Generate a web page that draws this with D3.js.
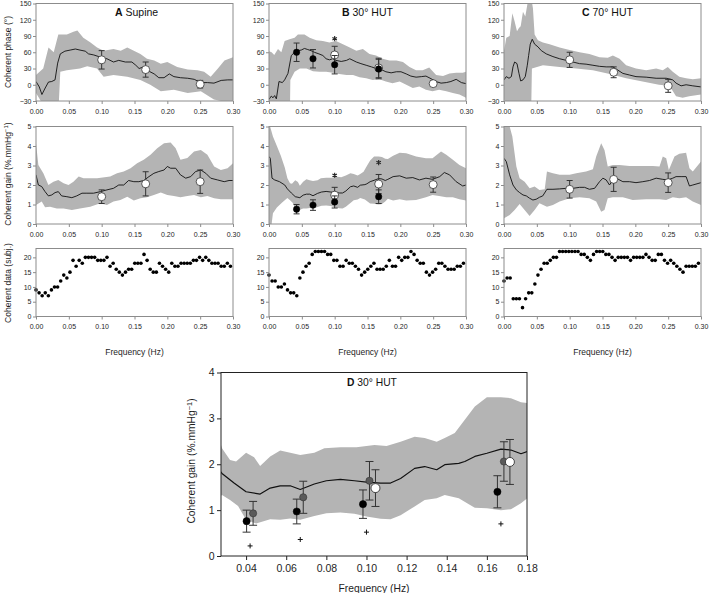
<!DOCTYPE html>
<html><head><meta charset="utf-8">
<script src="https://cdn.jsdelivr.net/npm/d3@7"></script>
<style>
body{margin:0;background:#fff;}
svg{display:block;}
</style></head><body>
<svg id="chart" width="709" height="593"></svg>
<script>
// ---------------- DATA ----------------
const freqTicks = [0, 0.05, 0.10, 0.15, 0.20, 0.25, 0.30];
const phaseTicks = [-30, 0, 30, 60, 90, 120, 150];
const gainTicks = [0, 1, 2, 3, 4, 5];
const subjTicks = [0, 5, 10, 15, 20];
const dFreqTicks = [0.04, 0.06, 0.08, 0.10, 0.12, 0.14, 0.16, 0.18];
const dGainTicks = [0, 1, 2, 3, 4];
const panelLetters = ["A", "B", "C"];
const panelNames = [" Supine", " 30° HUT", " 70° HUT"];

// coherent phase (deg): mean line and 95% band
const phaseA_line = [[0,6],[0.005,-4],[0.009,-18],[0.014,-6],[0.019,5],[0.024,6],[0.029,9],[0.033,40],[0.037,57],[0.044,62],[0.052,64],[0.060,66],[0.067,64],[0.075,62],[0.080,57],[0.088,55],[0.098,51],[0.108,48],[0.118,42],[0.126,45],[0.136,42],[0.146,42],[0.152,36],[0.157,30],[0.164,33],[0.172,25],[0.180,20],[0.187,13],[0.195,13],[0.203,20],[0.210,15],[0.220,13],[0.231,12],[0.241,10],[0.251,4],[0.261,4],[0.271,3],[0.282,8],[0.292,9],[0.300,9]];
const phaseA_upper = [[0,18],[0.011,30],[0.019,69],[0.027,60],[0.034,93],[0.047,93],[0.057,98],[0.063,100],[0.072,87],[0.083,78],[0.093,69],[0.103,63],[0.118,66],[0.129,63],[0.139,69],[0.149,63],[0.159,57],[0.169,48],[0.180,45],[0.190,39],[0.200,42],[0.215,33],[0.231,28],[0.246,27],[0.256,24],[0.266,15],[0.277,30],[0.287,45],[0.300,51]];
const phaseA_lower = [[0,-15],[0.006,-27],[0.011,-40],[0.0345,-40],[0.037,24],[0.047,27],[0.067,30],[0.078,34],[0.093,30],[0.103,15],[0.118,18],[0.139,15],[0.159,9],[0.174,0],[0.190,-12],[0.210,-9],[0.231,-15],[0.251,-12],[0.271,-27],[0.292,-33],[0.300,-33]];

const phaseB_line = [[0,-27],[0.0035,-21],[0.0061,-24],[0.0086,-20],[0.0112,-26],[0.0152,6],[0.0203,4],[0.0238,9],[0.0289,21],[0.034,54],[0.039,60],[0.044,63],[0.049,64],[0.054,67],[0.059,65],[0.064,63],[0.069,60],[0.076,57],[0.082,54],[0.087,48],[0.092,46],[0.097,48],[0.102,45],[0.110,43],[0.118,45],[0.123,48],[0.128,45],[0.133,42],[0.140,39],[0.148,36],[0.156,33],[0.163,30],[0.171,28],[0.178,24],[0.186,22],[0.194,24],[0.201,24],[0.209,20],[0.216,16],[0.224,14],[0.232,15],[0.239,16],[0.247,11],[0.254,6],[0.262,3],[0.270,4],[0.277,6],[0.285,10],[0.293,4],[0.300,2]];
const phaseB_upper = [[0,62],[0.004,60],[0.008,55],[0.0137,66],[0.0188,60],[0.0238,81],[0.0314,84],[0.039,87],[0.044,93],[0.054,93],[0.062,87],[0.072,82],[0.082,81],[0.092,78],[0.102,81],[0.1126,75],[0.123,69],[0.133,63],[0.143,66],[0.153,57],[0.163,54],[0.173,48],[0.1835,45],[0.194,45],[0.204,42],[0.214,33],[0.224,27],[0.234,27],[0.244,32],[0.2545,18],[0.265,16],[0.275,21],[0.285,22],[0.295,22],[0.300,24]];
const phaseB_lower = [[0,-40],[0.032,-40],[0.0325,9],[0.039,24],[0.047,30],[0.057,30],[0.067,25],[0.077,24],[0.087,24],[0.097,22],[0.107,20],[0.118,18],[0.128,18],[0.138,14],[0.148,12],[0.158,9],[0.168,10],[0.178,6],[0.188,3],[0.199,6],[0.209,0],[0.219,-6],[0.229,-3],[0.239,-9],[0.249,-12],[0.259,-9],[0.270,-12],[0.280,-15],[0.290,-18],[0.300,-24]];

const phaseC_line = [[0,9],[0.0035,15],[0.0076,12],[0.0112,15],[0.0137,33],[0.0162,42],[0.0198,39],[0.0228,21],[0.0254,7],[0.0289,9],[0.0324,15],[0.0355,36],[0.0375,54],[0.040,75],[0.043,84],[0.0466,75],[0.0517,70],[0.0568,63],[0.0644,57],[0.0745,52],[0.0847,48],[0.0948,45],[0.105,42],[0.115,39],[0.125,38],[0.1354,36],[0.1455,34],[0.1556,33],[0.1658,33],[0.1734,27],[0.181,21],[0.191,18],[0.201,15],[0.2165,14],[0.2317,12],[0.247,12],[0.257,9],[0.262,3],[0.2697,-2],[0.2773,0],[0.2875,-2],[0.300,-4]];
const phaseC_upper = [[0,63],[0.0035,87],[0.0086,90],[0.0127,132],[0.0162,117],[0.0198,99],[0.0228,105],[0.0254,108],[0.0289,135],[0.0324,126],[0.0365,155],[0.0416,160],[0.0441,141],[0.0466,93],[0.0517,82],[0.0593,78],[0.0694,75],[0.0847,69],[0.100,64],[0.115,60],[0.130,57],[0.1455,51],[0.158,50],[0.1658,54],[0.176,48],[0.186,36],[0.201,30],[0.2165,27],[0.2317,30],[0.2418,27],[0.2494,33],[0.257,24],[0.267,15],[0.2773,12],[0.2875,10],[0.300,12]];
const phaseC_lower = [[0,-27],[0.006,-40],[0.0415,-40],[0.0425,30],[0.0593,36],[0.0847,33],[0.110,30],[0.1354,27],[0.161,20],[0.186,12],[0.211,6],[0.236,0],[0.252,-2],[0.262,-21],[0.272,-24],[0.282,-21],[0.300,-18]];

// coherent gain (%.mmHg-1)
const gainA_line = [[0,2.52],[0.0036,2.0],[0.0087,1.92],[0.0138,1.66],[0.0189,1.44],[0.024,1.49],[0.029,1.61],[0.034,1.66],[0.039,1.44],[0.047,1.40],[0.0546,1.35],[0.062,1.44],[0.070,1.58],[0.0775,1.58],[0.0877,1.58],[0.098,1.66],[0.108,1.75],[0.118,1.83],[0.126,2.0],[0.1336,2.0],[0.141,2.23],[0.149,2.17],[0.1566,2.17],[0.164,2.23],[0.172,2.43],[0.1795,2.60],[0.187,2.69],[0.195,2.77],[0.200,2.95],[0.205,2.86],[0.2127,2.86],[0.220,2.52],[0.228,2.35],[0.2356,2.43],[0.243,2.69],[0.251,2.77],[0.2586,2.60],[0.266,2.35],[0.2764,2.26],[0.2866,2.17],[0.294,2.23],[0.300,2.23]];
const gainA_upper = [[0,4.14],[0.0036,3.03],[0.0112,2.60],[0.0189,2.0],[0.0265,2.17],[0.034,2.26],[0.042,2.09],[0.0495,2.0],[0.057,2.17],[0.065,2.43],[0.0724,2.35],[0.093,2.35],[0.113,2.43],[0.1234,2.60],[0.1336,2.69],[0.144,2.86],[0.154,3.12],[0.164,3.29],[0.1744,3.55],[0.1846,3.89],[0.195,4.14],[0.205,4.18],[0.2127,3.89],[0.220,3.29],[0.2305,3.38],[0.2407,3.72],[0.251,3.80],[0.261,3.55],[0.2713,2.95],[0.2815,2.77],[0.2917,2.86],[0.300,3.12]];
const gainA_lower = [[0,0.98],[0.0087,1.15],[0.0138,0.86],[0.0214,0.89],[0.0316,0.80],[0.042,0.80],[0.0546,0.72],[0.067,0.80],[0.0826,0.89],[0.098,1.06],[0.108,0.98],[0.118,1.15],[0.1285,1.23],[0.139,1.40],[0.149,1.20],[0.159,1.32],[0.169,1.37],[0.1795,1.49],[0.190,1.61],[0.200,1.49],[0.210,1.44],[0.220,1.37],[0.2305,1.44],[0.2407,1.49],[0.251,1.37],[0.261,1.44],[0.2713,1.32],[0.2815,1.27],[0.300,1.27]];

const gainB_line = [[0,3.46],[0.002,3.37],[0.0046,2.35],[0.0086,2.26],[0.016,2.17],[0.024,2.0],[0.028,1.80],[0.034,1.59],[0.040,1.40],[0.047,1.35],[0.052,1.48],[0.057,1.53],[0.062,1.53],[0.067,1.45],[0.074,1.57],[0.080,1.64],[0.087,1.67],[0.094,1.64],[0.100,1.61],[0.107,1.59],[0.112,1.59],[0.117,1.69],[0.124,1.91],[0.129,1.95],[0.135,1.88],[0.139,1.99],[0.146,2.02],[0.149,2.06],[0.154,2.17],[0.160,2.24],[0.167,2.33],[0.172,2.31],[0.177,2.23],[0.181,2.29],[0.189,2.43],[0.199,2.47],[0.209,2.35],[0.219,2.38],[0.229,2.26],[0.239,2.35],[0.249,2.29],[0.260,2.43],[0.267,2.64],[0.275,2.52],[0.285,2.17],[0.295,1.95],[0.300,2.0]];
const gainB_upper = [[0,5.2],[0.006,4.49],[0.012,4.0],[0.018,3.5],[0.024,2.9],[0.028,2.35],[0.032,2.09],[0.035,2.06],[0.040,2.25],[0.044,2.15],[0.047,1.96],[0.052,2.17],[0.057,2.30],[0.062,2.25],[0.067,2.20],[0.074,2.25],[0.079,2.35],[0.087,2.37],[0.095,2.37],[0.104,2.42],[0.110,2.40],[0.117,2.49],[0.124,2.60],[0.129,2.57],[0.135,2.49],[0.139,2.57],[0.144,2.68],[0.149,2.97],[0.154,3.26],[0.160,3.46],[0.167,3.46],[0.172,3.44],[0.177,3.35],[0.181,3.33],[0.189,3.5],[0.199,3.65],[0.209,3.63],[0.224,3.46],[0.239,3.37],[0.249,3.37],[0.262,3.72],[0.270,3.55],[0.280,3.29],[0.290,3.03],[0.300,2.86]];
const gainB_lower = [[0,0],[0.004,0],[0.006,0.55],[0.012,0.85],[0.020,1.1],[0.028,1.33],[0.032,1.22],[0.036,1.09],[0.040,0.79],[0.045,0.71],[0.052,0.80],[0.057,0.79],[0.062,0.82],[0.067,0.79],[0.074,0.87],[0.080,0.93],[0.087,0.95],[0.094,0.92],[0.100,0.86],[0.107,0.81],[0.112,0.80],[0.117,0.89],[0.124,1.08],[0.129,1.22],[0.135,1.26],[0.139,1.33],[0.146,1.26],[0.151,1.13],[0.154,1.05],[0.160,1.04],[0.167,1.00],[0.172,1.02],[0.177,1.15],[0.181,1.29],[0.189,1.20],[0.199,1.27],[0.209,1.20],[0.224,1.23],[0.239,1.37],[0.249,1.49],[0.259,1.44],[0.270,1.37],[0.280,1.37],[0.290,1.27],[0.300,1.20]];

const gainC_line = [[0,3.37],[0.0035,3.20],[0.0086,2.52],[0.0137,2.0],[0.0188,1.75],[0.0238,1.61],[0.0289,1.49],[0.034,1.44],[0.039,1.32],[0.044,1.23],[0.049,1.27],[0.054,1.37],[0.059,1.44],[0.0654,1.78],[0.0745,1.78],[0.0847,1.80],[0.0948,1.83],[0.105,1.83],[0.115,1.88],[0.1227,1.88],[0.130,1.78],[0.138,1.83],[0.1455,2.17],[0.1506,2.35],[0.1556,2.26],[0.1607,2.0],[0.1658,2.26],[0.1709,2.35],[0.181,2.17],[0.191,2.17],[0.201,2.12],[0.2114,2.17],[0.2216,2.23],[0.2317,2.35],[0.2418,2.29],[0.2494,2.26],[0.257,2.35],[0.262,2.43],[0.2697,2.43],[0.2773,2.43],[0.2824,1.95],[0.2875,2.0],[0.300,2.12]];
const gainC_upper = [[0,5.2],[0.0086,5.0],[0.0127,4.49],[0.0188,2.95],[0.0238,2.35],[0.0314,2.17],[0.039,1.83],[0.0466,1.92],[0.054,1.75],[0.062,1.78],[0.0654,2.69],[0.0745,2.60],[0.0847,2.52],[0.100,2.52],[0.110,2.60],[0.125,2.69],[0.1354,2.81],[0.1404,3.46],[0.148,4.14],[0.153,3.80],[0.158,2.95],[0.1658,3.03],[0.176,3.03],[0.191,2.98],[0.206,2.98],[0.2266,2.98],[0.2368,2.95],[0.2418,3.46],[0.247,3.37],[0.251,2.77],[0.2596,3.46],[0.267,3.60],[0.2773,3.66],[0.2824,2.86],[0.2875,2.69],[0.300,3.20]];
const gainC_lower = [[0,0.29],[0.0086,0.46],[0.0162,0.72],[0.0238,1.03],[0.0314,0.72],[0.039,0.41],[0.0466,0.72],[0.054,1.06],[0.0654,0.89],[0.0745,0.98],[0.0847,1.15],[0.100,1.32],[0.115,1.37],[0.130,1.32],[0.1404,1.15],[0.148,0.63],[0.153,0.72],[0.158,1.32],[0.1658,1.37],[0.181,1.37],[0.196,1.23],[0.2165,1.27],[0.2368,1.27],[0.247,1.23],[0.257,1.37],[0.267,1.32],[0.2773,1.37],[0.2875,1.15],[0.300,0.98]];

// number of subjects with coherent data per frequency bin
const subjStep = 0.0047;
const subjA = [9,8,7,8,7,9,10,10,12,14,13,15,19,17,19,18,20,20,20,20,19,19,19,20,17,18,16,15,14,15,16,16,18,18,18,21,19,16,15,15,18,17,16,15,18,17,17,18,18,18,18,19,19,20,19,20,19,18,18,18,17,17,18,17];
const subjB = [14,12,12,10,10,11,9,8,8,7,13,15,17,18,21,22,22,22,22,21,21,19,19,17,17,19,18,18,17,16,14,15,16,17,18,16,16,16,17,19,17,17,20,19,20,20,22,21,19,18,18,15,14,15,16,18,18,17,16,16,16,17,17,18];
const subjC = [12,13,13,6,6,6,3,6,8,8,11,14,16,18,18,19,20,20,22,22,22,22,22,22,22,21,21,20,19,21,22,22,22,21,21,20,19,20,20,20,20,19,20,20,20,20,21,20,19,19,21,21,19,18,19,18,17,16,15,17,17,17,17,18];

// group means (mean, +/- error)
const whiteFreqs = [0.10, 0.167, 0.25];
const groupFreqs = [0.042, 0.067, 0.10, 0.167];
const phaseWhiteA = [46, 28, 1],   phaseWhiteAErr = [17, 14, 7];
const phaseWhiteB = [55, 31, 2],   phaseWhiteBErr = [16, 18, 5];
const phaseBlackB = [60, 48, 37, 29], phaseBlackBErr = [17, 17, 17, 18];
const phaseWhiteC = [46, 23, -2],  phaseWhiteCErr = [14, 10, 12];
const gainWhiteA = [1.40, 2.06, 2.17], gainWhiteAErr = [0.35, 0.62, 0.60];
const gainWhiteB = [1.48, 2.05, 2.02], gainWhiteBErr = [0.40, 0.49, 0.39];
const gainBlackB = [0.76, 0.97, 1.13, 1.40], gainBlackBErr = [0.24, 0.27, 0.31, 0.35];
const gainGreyB = [0.93, 1.28, 1.64, 2.06],  gainGreyBErr = [0.26, 0.35, 0.42, 0.43];
const gainPlusB = [0.22, 0.36, 0.52, 0.70];
const gainWhiteC = [1.78, 2.29, 2.12], gainWhiteCErr = [0.45, 0.62, 0.50];
const phaseStarB = [[0.10, 85]];
const gainStarB = [[0.10, 2.5], [0.167, 3.15]];

// ---------------- DRAWING ----------------
const FONT = '"Liberation Sans", Arial, Helvetica, sans-serif';
const BAND = '#b4b4b4', FRAME = '#8c8c8c', TXT = '#1e1e1e', ERR = '#333';
const svg = d3.select('#chart').attr('font-family', FONT);
const defs = svg.append('defs');
let clipN = 0;
function clip(x0, y0, w, h) {
  const id = 'clip' + (clipN++);
  defs.append('clipPath').attr('id', id).append('rect').attr('x', x0).attr('y', y0).attr('width', w).attr('height', h);
  return id;
}
const lineGen = (x, y) => d3.line().x(d => x(d[0])).y(d => y(d[1]));

function band(g, x, y, up, lo, cid) {
  const pts = up.concat(lo.slice().reverse());
  g.append('path').attr('d', lineGen(x, y)(pts) + 'Z').attr('fill', BAND).attr('stroke', 'none').attr('clip-path', `url(#${cid})`);
}
function meanLine(g, x, y, data, cid, w) {
  g.append('path').attr('d', lineGen(x, y)(data)).attr('fill', 'none').attr('stroke', '#111').attr('stroke-width', w || 1).attr('stroke-linejoin', 'round').attr('clip-path', `url(#${cid})`);
}
function markers(g, x, y, freqs, means, errs, o) {
  const dx = o.dodge || 0, cap = o.cap || 3;
  const grp = g.append('g');
  freqs.forEach((f, i) => {
    const cx = x(f) + dx, m = means[i], e = errs[i];
    grp.append('line').attr('x1', cx).attr('x2', cx).attr('y1', y(m - e)).attr('y2', y(m + e)).attr('stroke', ERR).attr('stroke-width', 1);
    [m - e, m + e].forEach(v => grp.append('line').attr('x1', cx - cap).attr('x2', cx + cap).attr('y1', y(v)).attr('y2', y(v)).attr('stroke', ERR).attr('stroke-width', 1));
  });
  grp.selectAll('circle').data(freqs).join('circle')
    .attr('cx', d => x(d) + dx).attr('cy', (d, i) => y(means[i])).attr('r', o.r)
    .attr('fill', o.fill).attr('stroke', o.stroke).attr('stroke-width', o.sw || 0.8);
}
function stars(g, x, y, data) {
  const s = 2.6;
  g.selectAll('path.star').data(data).join('path').attr('class', 'star')
    .attr('d', d => {
      const cx = x(d[0]), cy = y(d[1]);
      let p = '';
      [90, 30, -30].forEach(a => {
        const r = a * Math.PI / 180, ux = Math.cos(r) * s, uy = Math.sin(r) * s;
        p += `M${cx - ux},${cy - uy}L${cx + ux},${cy + uy}`;
      });
      return p;
    })
    .attr('stroke', '#222').attr('stroke-width', 1.1).attr('fill', 'none');
}
function styleAxis(sel, color, fs) {
  sel.attr('font-family', FONT).attr('font-size', fs);
  sel.select('.domain').remove();
  sel.selectAll('.tick line').attr('stroke', color);
  sel.selectAll('.tick text').attr('fill', TXT);
}

const cols = [{x0: 36, x1: 233}, {x0: 269, x1: 466}, {x0: 504, x1: 701}];
const rows = [
  {top: 3.5, bottom: 101, domain: [-30, 150], ticks: phaseTicks},
  {top: 126.5, bottom: 224, domain: [0, 5], ticks: gainTicks},
  {top: 248.5, bottom: 316.5, domain: [0, 23], ticks: subjTicks}
];
const phaseSets = [
  {line: phaseA_line, up: phaseA_upper, lo: phaseA_lower},
  {line: phaseB_line, up: phaseB_upper, lo: phaseB_lower},
  {line: phaseC_line, up: phaseC_upper, lo: phaseC_lower}];
const gainSets = [
  {line: gainA_line, up: gainA_upper, lo: gainA_lower},
  {line: gainB_line, up: gainB_upper, lo: gainB_lower},
  {line: gainC_line, up: gainC_upper, lo: gainC_lower}];
const subjSets = [subjA, subjB, subjC];
const titleOffsets = [79, 73, 78];

const whiteStyle = {r: 4, fill: '#fff', stroke: '#333', sw: 0.8};
const blackStyle = {r: 3.2, fill: '#000', stroke: '#000', sw: 0.5};

cols.forEach((c, ci) => {
  const x = d3.scaleLinear().domain([0, 0.30]).range([c.x0, c.x1]);
  rows.forEach((r, ri) => {
    const y = d3.scaleLinear().domain(r.domain).range([r.bottom, r.top]);
    const g = svg.append('g');
    const cid = clip(c.x0, r.top, c.x1 - c.x0, r.bottom - r.top);
    if (ri < 2) {
      const s = ri === 0 ? phaseSets[ci] : gainSets[ci];
      band(g, x, y, s.up, s.lo, cid);
      meanLine(g, x, y, s.line, cid, 0.9);
    }
    if (ri === 0) {
      if (ci === 0) markers(g, x, y, whiteFreqs, phaseWhiteA, phaseWhiteAErr, whiteStyle);
      if (ci === 1) {
        markers(g, x, y, whiteFreqs, phaseWhiteB, phaseWhiteBErr, whiteStyle);
        markers(g, x, y, groupFreqs, phaseBlackB, phaseBlackBErr, blackStyle);
      }
      if (ci === 2) markers(g, x, y, whiteFreqs, phaseWhiteC, phaseWhiteCErr, whiteStyle);
    }
    if (ri === 1) {
      if (ci === 0) markers(g, x, y, whiteFreqs, gainWhiteA, gainWhiteAErr, whiteStyle);
      if (ci === 1) {
        markers(g, x, y, whiteFreqs, gainWhiteB, gainWhiteBErr, whiteStyle);
        markers(g, x, y, groupFreqs, gainBlackB, gainBlackBErr, blackStyle);
      }
      if (ci === 2) markers(g, x, y, whiteFreqs, gainWhiteC, gainWhiteCErr, whiteStyle);
    }
    if (ci === 1 && ri < 2) stars(g, x, y, ri === 0 ? phaseStarB : gainStarB);
    if (ri === 2) {
      g.selectAll('circle').data(subjSets[ci]).join('circle')
        .attr('cx', (d, i) => x(i * subjStep)).attr('cy', d => y(d)).attr('r', 1.8).attr('fill', '#000');
    }
    // frame
    g.append('rect').attr('x', c.x0).attr('y', r.top).attr('width', c.x1 - c.x0).attr('height', r.bottom - r.top)
      .attr('fill', 'none').attr('stroke', FRAME).attr('stroke-width', 1);
    // axes
    const ax = g.append('g').attr('transform', `translate(0,${r.bottom})`)
      .call(d3.axisBottom(x).tickValues(freqTicks).tickFormat(d3.format('.2f')).tickSize(3).tickSizeOuter(0).tickPadding(5));
    styleAxis(ax, FRAME, 7);
    const ay = g.append('g').attr('transform', `translate(${c.x0},0)`)
      .call(d3.axisLeft(y).tickValues(r.ticks).tickFormat(d3.format('d')).tickSize(3).tickSizeOuter(0).tickPadding(1.5));
    styleAxis(ay, FRAME, 7);
  });
  // panel title
  const t = svg.append('text').attr('x', c.x0 + titleOffsets[ci]).attr('y', 16).attr('font-size', 10.5).attr('fill', '#111');
  t.append('tspan').attr('font-weight', 'bold').text(panelLetters[ci]);
  t.append('tspan').text(panelNames[ci]);
  // x title
  svg.append('text').attr('x', (c.x0 + c.x1) / 2).attr('y', 355).attr('text-anchor', 'middle')
    .attr('font-size', 8.5).attr('fill', TXT).text('Frequency (Hz)');
});

// y titles (left)
function yTitle(x, y, fs, parts) {
  const t = svg.append('text').attr('transform', `translate(${x},${y}) rotate(-90)`).attr('text-anchor', 'middle')
    .attr('font-size', fs).attr('fill', TXT);
  parts(t);
  return t;
}
yTitle(11, 52, 8.5, t => t.text('Coherent phase (°)'));
const gainTitle = t => {
  t.append('tspan').text('Coherent gain (%.mmHg');
  t.append('tspan').attr('dy', '-0.45em').attr('font-size', '0.72em').text('−1');
  t.append('tspan').attr('dy', '0.32em').text(')');
};
yTitle(11, 174, 8.5, gainTitle);
yTitle(11, 283, 8.5, t => t.text('Coherent data (subj.)'));

// ---------------- PANEL D ----------------
const D = {x0: 221, x1: 527, top: 372.5, bottom: 556};
const xD = d3.scaleLinear().domain([0.0275, 0.18]).range([D.x0, D.x1]);
const yD = d3.scaleLinear().domain([0, 4]).range([D.bottom, D.top]);
const gD = svg.append('g');
const cidD = clip(D.x0, D.top, D.x1 - D.x0, D.bottom - D.top);
band(gD, xD, yD, gainB_upper, gainB_lower, cidD);
meanLine(gD, xD, yD, gainB_line, cidD, 1.2);
markers(gD, xD, yD, groupFreqs, gainBlackB, gainBlackBErr, {r: 3.6, fill: '#000', stroke: '#000', sw: 0.5, dodge: -3.5, cap: 4});
markers(gD, xD, yD, groupFreqs, gainGreyB, gainGreyBErr, {r: 3.6, fill: '#5a5a5a', stroke: '#333', sw: 0.6, dodge: 3, cap: 4});
markers(gD, xD, yD, whiteFreqs.slice(0, 2), gainWhiteB, gainWhiteBErr, {r: 4.5, fill: '#fff', stroke: '#333', sw: 0.9, dodge: 9, cap: 4});
gD.selectAll('path.plus').data(groupFreqs).join('path').attr('class', 'plus')
  .attr('d', (d, i) => `M${xD(d) - 2.5},${yD(gainPlusB[i])}h5M${xD(d)},${yD(gainPlusB[i]) - 2.5}v5`)
  .attr('stroke', '#111').attr('stroke-width', 1);
gD.append('rect').attr('x', D.x0).attr('y', D.top).attr('width', D.x1 - D.x0).attr('height', D.bottom - D.top)
  .attr('fill', 'none').attr('stroke', '#222').attr('stroke-width', 1);
const axD = gD.append('g').attr('transform', `translate(0,${D.bottom})`)
  .call(d3.axisBottom(xD).tickValues(dFreqTicks).tickFormat(d3.format('.2f')).tickSize(4).tickSizeOuter(0).tickPadding(5));
styleAxis(axD, '#222', 10.5);
const ayD = gD.append('g').attr('transform', `translate(${D.x0},0)`)
  .call(d3.axisLeft(yD).tickValues(dGainTicks).tickFormat(d3.format('d')).tickSize(4).tickSizeOuter(0).tickPadding(2.5));
styleAxis(ayD, '#222', 10.5);
const tD = svg.append('text').attr('x', 347).attr('y', 386).attr('font-size', 10.3).attr('fill', '#111');
tD.append('tspan').attr('font-weight', 'bold').text('D');
tD.append('tspan').text(' 30° HUT');
svg.append('text').attr('x', (D.x0 + D.x1) / 2).attr('y', 592).attr('text-anchor', 'middle')
  .attr('font-size', 10.3).attr('fill', TXT).text('Frequency (Hz)');
yTitle(195, 461, 10.3, gainTitle);
</script>
</body></html>
